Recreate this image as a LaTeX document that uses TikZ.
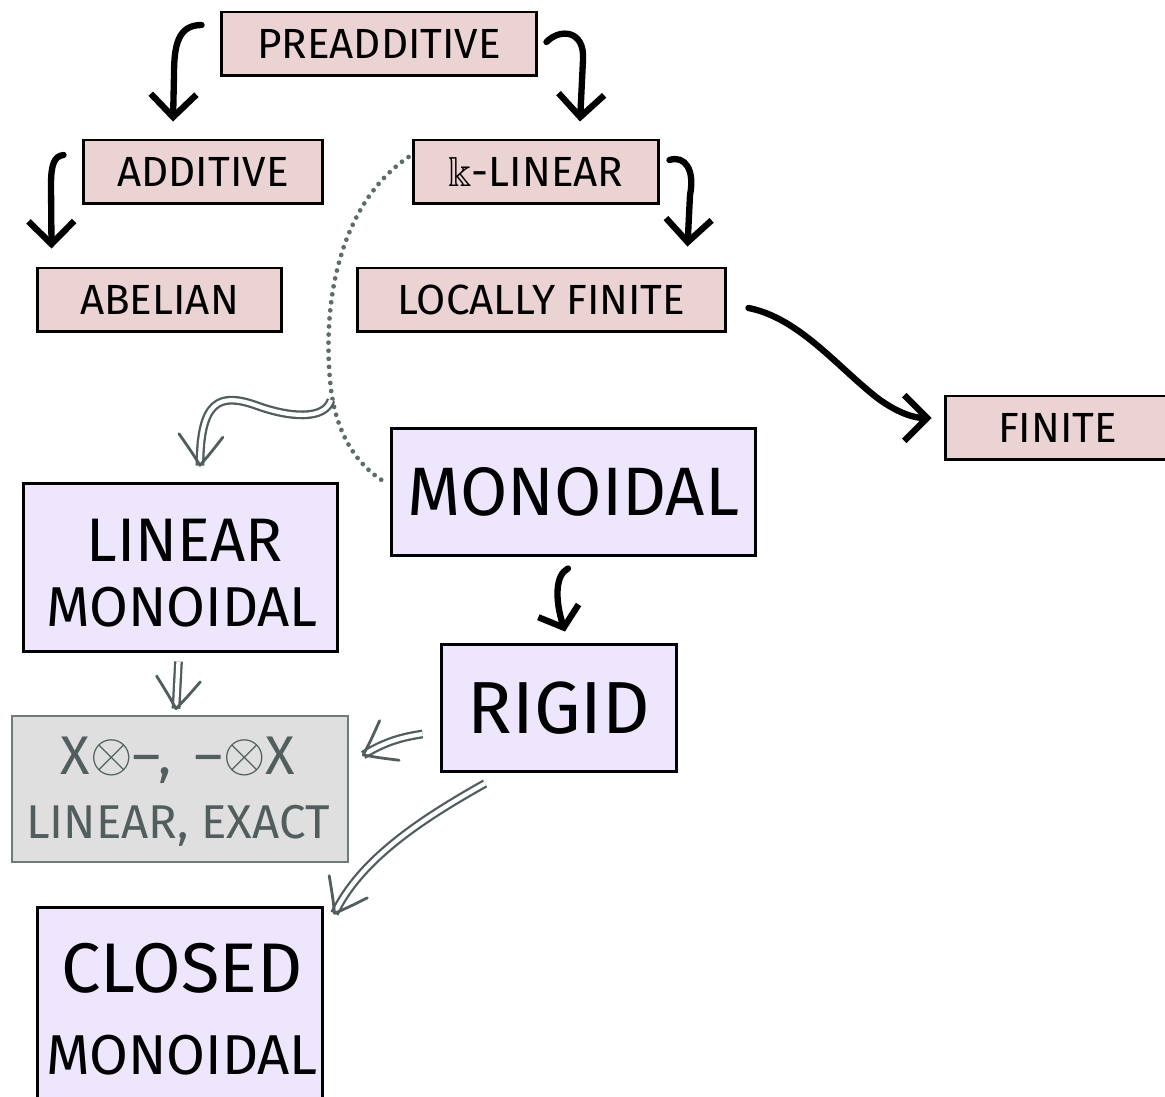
\documentclass[tikz,border=0pt]{standalone}
\usepackage{amssymb}
\usepackage{fontspec}
\setmainfont{Fira Sans}
\usetikzlibrary{arrows.meta,decorations.markings}

\definecolor{pinkfill}{RGB}{235,211,211}
\definecolor{lilac}{RGB}{238,230,252}
\definecolor{greyfill}{RGB}{224,223,223}
\definecolor{greyline}{RGB}{112,122,122}
\definecolor{slate}{RGB}{82,94,94}
\definecolor{dotgrey}{RGB}{95,106,106}

\newcommand{\tensorsym}{\raisebox{0.05em}{\scalebox{1.25}{$\otimes$}}}

\tikzset{
  catbox/.style={draw=black, line width=1.7pt, fill=pinkfill, minimum height=1.28cm,
    inner sep=0pt, font=\fontsize{24}{28}\selectfont},
  bigbox/.style={draw=black, line width=1.7pt, fill=lilac, inner sep=0pt},
  notebox/.style={draw=greyline, line width=1.4pt, fill=greyfill, inner sep=0pt},
  textline/.style={inner sep=0pt, anchor=center},
  solidarrow/.style={black, line width=3.6pt, line cap=round, line join=round,
    -{Straight Barb[length=13pt,width=26pt]}},
  smallarrow/.style={black, line width=3.6pt, line cap=round, line join=round,
    -{Straight Barb[length=10pt,width=24pt]}},
  % a hand-drawn style implication: two thin strokes and an open barb
  dblarrow/.style={draw=slate, line width=5.0pt, line cap=butt,
    postaction={draw=white, line width=2.4pt, line cap=butt},
    postaction={decorate, decoration={markings, mark=at position 0.999 with {
      \draw[slate, line width=1.6pt, line cap=round, line join=round]
        (-16pt,13pt) .. controls (-7pt,6pt) .. (0pt,0pt)
        .. controls (-8pt,-5pt) .. (-18pt,-12pt);}}}},
  dotarc/.style={draw=dotgrey, line width=2.7pt, line cap=round,
    dash pattern=on 0pt off 4.6pt},
}

\begin{document}
\begin{tikzpicture}[x=0.02cm, y=-0.02cm]
\useasboundingbox (0,0) rectangle (1165,1097);
\clip (0,0) rectangle (1165,1097);

% additive branch (pink boxes)
\node[catbox, minimum width=6.32cm] (pre)  at (379,44)    {PREADDITIVE};
\node[catbox, minimum width=4.80cm] (add)  at (203,172)   {ADDITIVE};
\node[catbox, minimum width=4.92cm] (klin) at (536,172)   {$\Bbbk$-LINEAR};
\node[catbox, minimum width=4.90cm] (abel) at (159.5,300) {ABELIAN};
\node[catbox, minimum width=7.38cm] (lf)   at (541.5,300) {LOCALLY FINITE};
\node[catbox, minimum width=4.50cm] (fin)  at (1057.5,428){FINITE};

% monoidal branch (lilac boxes)
\node[bigbox, minimum width=6.30cm, minimum height=3.38cm] (linmon) at (180.5,567.5) {};
\node[textline, font=\fontsize{35}{40}\selectfont] (linmonA) at (185,540) {LINEAR};
\node[textline, font=\fontsize{32}{40}\selectfont] (linmonB) at (182,607) {MONOIDAL};

\node[bigbox, minimum width=7.30cm, minimum height=2.56cm, font=\fontsize{39}{44}\selectfont]
  (mon) at (573.5,492) {MONOIDAL};
\node[bigbox, minimum width=4.72cm, minimum height=2.56cm, font=\fontsize{42}{46}\selectfont]
  (rigid) at (559,708) {RIGID};

\node[notebox, minimum width=6.72cm, minimum height=2.92cm] (tens) at (180,789) {};
\node[textline, text=slate, font=\fontsize{31}{34}\selectfont] (tensA) at (178,760)
  {X\tensorsym–,\, –\tensorsym X};
\node[textline, text=slate, font=\fontsize{27}{30}\selectfont] (tensB) at (178,826)
  {LINEAR, EXACT};

\node[bigbox, minimum width=5.72cm, minimum height=4.20cm] (closed) at (180,1012) {};
\node[textline, font=\fontsize{40}{46}\selectfont] (closedA) at (182,968) {CLOSED};
\node[textline, font=\fontsize{32}{40}\selectfont] (closedB) at (182,1055) {MONOIDAL};

% solid implications
\draw[solidarrow] ([shift={(-18,-19)}]pre.west)
  .. controls (178,25) and (174,45) .. (174,75) -- ([shift={(-30,-17)}]add.north);
\draw[solidarrow] ([shift={(8,-2)}]pre.east)
  .. controls (560,28) and (585,30) .. (583,60) -- ([shift={(44,-17)}]klin.north);
\draw[solidarrow] ([shift={(-18,-17)}]add.west)
  .. controls (54,156) and (51,165) .. (51,185) -- ([shift={(16,-18)}]abel.north west);
\draw[solidarrow] ([shift={(9,-12)}]klin.east)
  .. controls (685,155) and (695,170) .. (690,195) -- ([shift={(-40,-20)}]lf.north east);
\draw[solidarrow] ([shift={(21,8)}]lf.east)
  .. controls (800,318) and (840,370) .. (880,400)
  .. controls (900,414) and (915,418) .. ([shift={(-12,-10)}]fin.west);
\draw[smallarrow] ([shift={(-5.5,11)}]mon.south)
  .. controls (555,575) and (555,600) .. ([shift={(6,-11)}]rigid.north);

% dotted arc from k-linear to monoidal
\draw[dotarc] ([shift={(-3,-15)}]klin.west)
  .. controls (345,200) and (322,290) .. (330,380)
  .. controls (334,430) and (355,465) .. ([shift={(-3,-9)}]mon.west);
\coordinate (tap) at (331,400);

% double implications
\draw[dblarrow] (tap) .. controls (325,420) and (290,418) .. (255,405)
  .. controls (220,393) and (200,400) .. ([shift={(19.5,-16)}]linmon.north);
\draw[dblarrow] ([shift={(-2,8)}]linmon.south) -- ([shift={(-4,-6)}]tens.north);
\draw[dblarrow] ([shift={(-17,26)}]rigid.west)
  .. controls (395,738) and (380,745) .. ([shift={(14,-34)}]tens.east);
\draw[dblarrow] ([shift={(-74,10)}]rigid.south)
  .. controls (420,820) and (360,860) .. ([shift={(10,8)}]closed.north east);
\end{tikzpicture}
\end{document}
